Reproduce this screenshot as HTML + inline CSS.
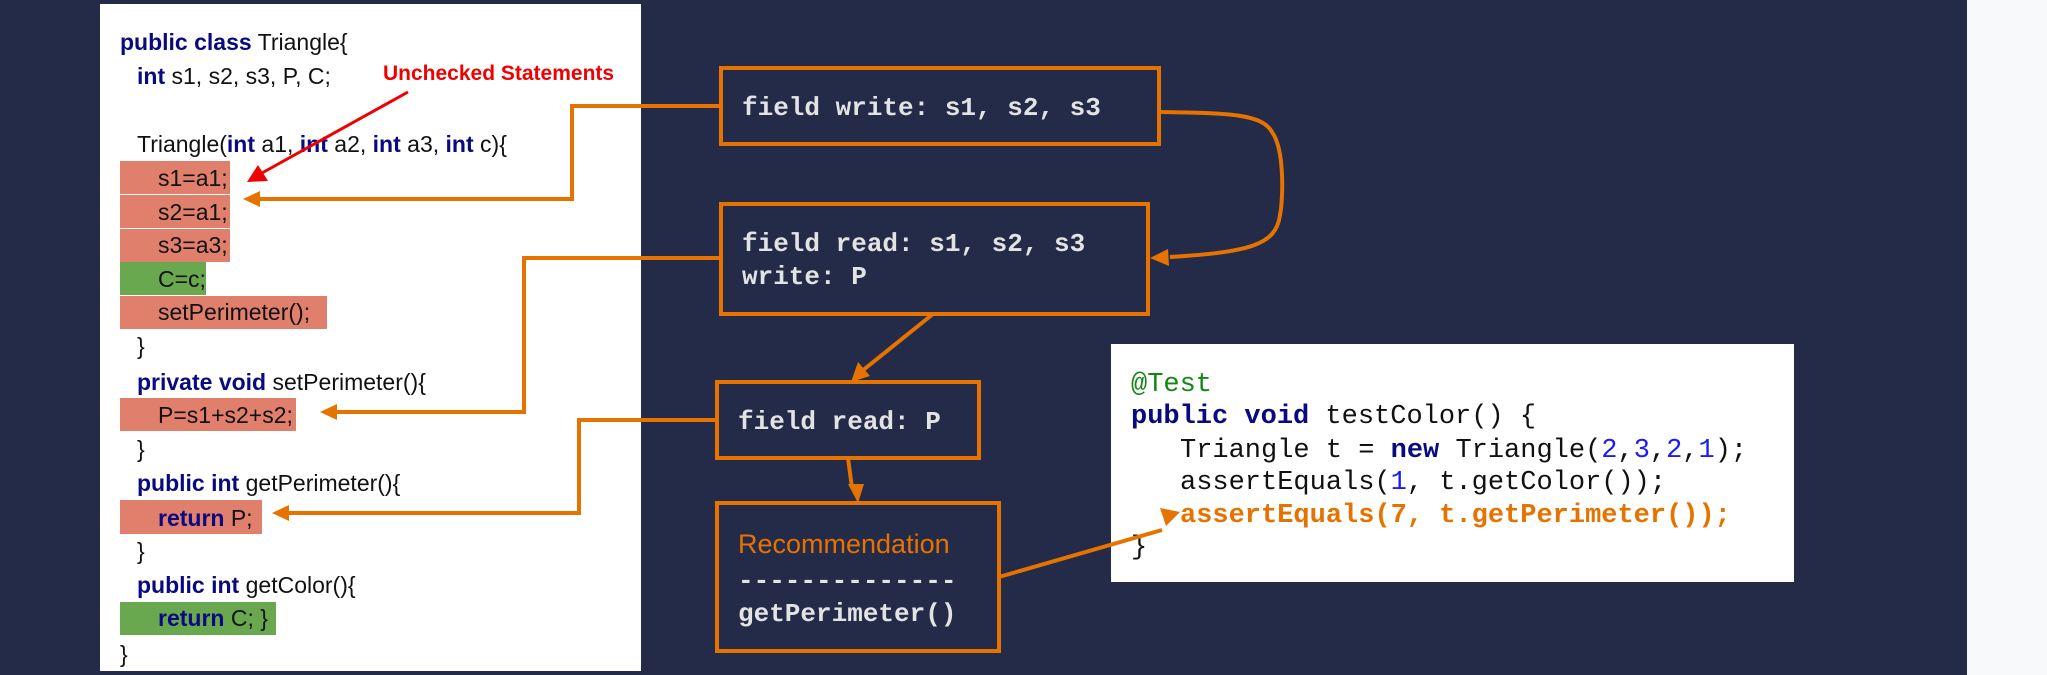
<!DOCTYPE html>
<html><head><meta charset="utf-8"><style>
html,body{margin:0;padding:0;background:#232b49;}
svg{display:block}
</style></head><body>
<svg width="2047" height="675" viewBox="0 0 2047 675" xmlns="http://www.w3.org/2000/svg">
<rect x="0" y="0" width="2047" height="675" fill="#232b49"/>
<rect x="1967" y="0" width="80" height="675" fill="#f8f9fb"/>
<rect x="100" y="4" width="541" height="667" fill="#ffffff"/>
<g>
<rect x="120" y="161" width="110" height="33" fill="#e07f6b"/>
<rect x="120" y="195" width="110" height="33" fill="#e07f6b"/>
<rect x="120" y="229" width="110" height="33" fill="#e07f6b"/>
<rect x="120" y="262" width="86" height="33" fill="#6aa84f"/>
<rect x="120" y="296" width="207" height="33" fill="#e07f6b"/>
<rect x="120" y="398" width="176" height="33" fill="#e07f6b"/>
<rect x="120" y="500" width="142" height="34" fill="#e07f6b"/>
<rect x="120" y="602" width="156" height="33" fill="#6aa84f"/>
</g>
<g font-family="Liberation Sans, sans-serif" font-size="23" fill="#111">
<text x="120" y="50"><tspan fill="#0a0a80" font-weight="bold">public class</tspan> Triangle{</text>
<text x="137" y="84"><tspan fill="#0a0a80" font-weight="bold">int</tspan> s1, s2, s3, P, C;</text>
<text x="137" y="152">Triangle(<tspan fill="#0a0a80" font-weight="bold">int</tspan> a1, <tspan fill="#0a0a80" font-weight="bold">int</tspan> a2, <tspan fill="#0a0a80" font-weight="bold">int</tspan> a3, <tspan fill="#0a0a80" font-weight="bold">int</tspan> c){</text>
<text x="158" y="186">s1=a1;</text>
<text x="158" y="220">s2=a1;</text>
<text x="158" y="253">s3=a3;</text>
<text x="158" y="287">C=c;</text>
<text x="158" y="320">setPerimeter();</text>
<text x="137" y="354">}</text>
<text x="137" y="390"><tspan fill="#0a0a80" font-weight="bold">private void</tspan> setPerimeter(){</text>
<text x="158" y="423">P=s1+s2+s2;</text>
<text x="137" y="457">}</text>
<text x="137" y="491"><tspan fill="#0a0a80" font-weight="bold">public int</tspan> getPerimeter(){</text>
<text x="158" y="526"><tspan fill="#0a0a80" font-weight="bold">return</tspan> P;</text>
<text x="137" y="559">}</text>
<text x="137" y="593"><tspan fill="#0a0a80" font-weight="bold">public int</tspan> getColor(){</text>
<text x="158" y="626"><tspan fill="#0a0a80" font-weight="bold">return</tspan> C; }</text>
<text x="120" y="662">}</text>
</g>
<text x="383" y="80" font-family="Liberation Sans, sans-serif" font-size="21" font-weight="bold" fill="#f00000">Unchecked Statements</text>
<line x1="408" y1="92" x2="262" y2="173" stroke="#f00000" stroke-width="3"/>
<polygon points="247,182 258,165 268,181" fill="#f00000"/>

<g stroke="#e67300" stroke-width="4" fill="none">
<polyline points="721,106 572,106 572,199 258,199"/>
<polyline points="721,258 524,258 524,412 335,412"/>
<polyline points="717,420 579,420 579,513 287,513"/>
<path d="M1159,112 C1230,113 1262,114 1272,132 C1285,150 1283,200 1280,215 C1276,245 1250,252 1170,257"/>
<line x1="933" y1="314" x2="862" y2="371"/>
<line x1="848" y1="458" x2="852" y2="488"/>
</g>
<g fill="#e67300">
<polygon points="243,199 260,191 260,207"/>
<polygon points="320,412 337,404 337,420"/>
<polygon points="272,513 289,505 289,521"/>
<polygon points="1150,258 1168,249 1169,266"/>
<polygon points="851,382 858,362 870,376"/>
<polygon points="858,503 848,484 864,484"/>
</g>
<g stroke="#e67300" stroke-width="4" fill="none">
<rect x="721" y="68" width="438" height="76"/>
<rect x="721" y="204" width="427" height="110"/>
<rect x="717" y="382" width="262" height="76"/>
<rect x="717" y="503" width="282" height="148"/>
</g>
<g font-family="Liberation Mono, monospace" font-size="26" font-weight="bold" fill="#e3e3e3">
<text x="742" y="115">field write: s1, s2, s3</text>
<text x="742" y="251">field read: s1, s2, s3</text>
<text x="742" y="284">write: P</text>
<text x="738" y="429">field read: P</text>
<text x="738" y="588">--------------</text>
<text x="738" y="621">getPerimeter()</text>
</g>
<text x="738" y="553" font-family="Liberation Sans, sans-serif" font-size="27" fill="#e67300">Recommendation</text>

<rect x="1111" y="344" width="683" height="238" fill="#ffffff"/>
<g font-family="Liberation Mono, monospace" font-size="27" fill="#111">
<text x="1131" y="391" fill="#118811">@Test</text>
<text x="1131" y="423"><tspan fill="#0a0a80" font-weight="bold">public void</tspan> testColor() {</text>
<text x="1180" y="457">Triangle t = <tspan fill="#0a0a80" font-weight="bold">new</tspan> Triangle(<tspan fill="#1a1aff">2</tspan>,<tspan fill="#1a1aff">3</tspan>,<tspan fill="#1a1aff">2</tspan>,<tspan fill="#1a1aff">1</tspan>);</text>
<text x="1180" y="489">assertEquals(<tspan fill="#1a1aff">1</tspan>, t.getColor());</text>
<text x="1180" y="522" fill="#e67300" font-weight="bold">assertEquals(7, t.getPerimeter());</text>
<text x="1131" y="554">}</text>
</g>
<line x1="999" y1="577" x2="1162" y2="530" stroke="#e67300" stroke-width="4"/>
<polygon points="1180,512 1160,508 1166,526" fill="#e67300"/>
</svg>
</body></html>
